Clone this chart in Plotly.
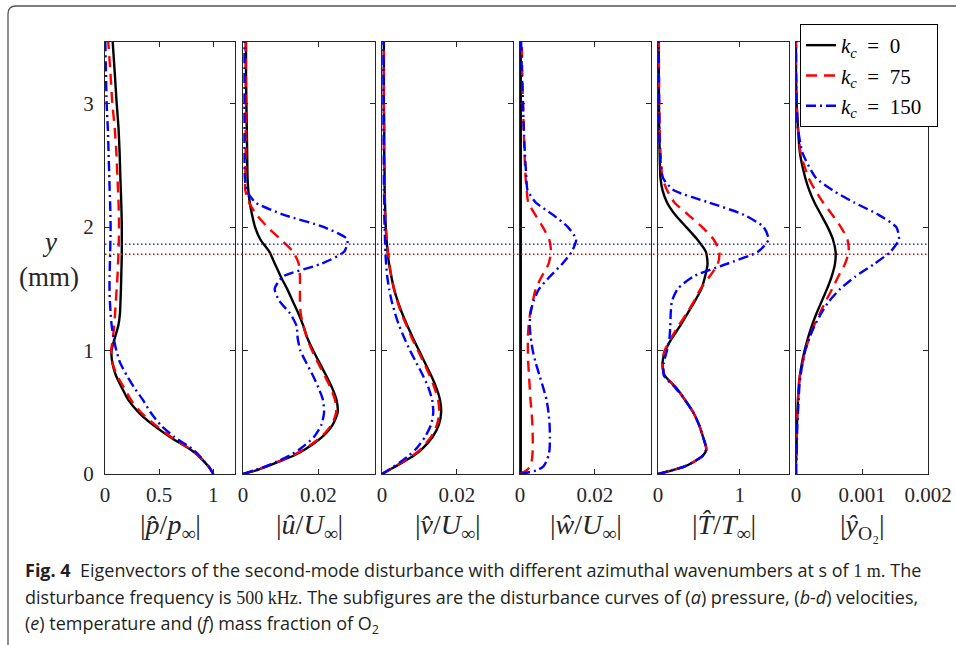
import plotly.graph_objects as go

W, H = 956, 645

# wall-normal distance (mm), shared sampling for all profiles
y_mm = [0, 0.03, 0.06, 0.1, 0.15, 0.2, 0.3, 0.4, 0.5, 0.6, 0.7, 0.8, 0.9, 1.0,
        1.1, 1.2, 1.3, 1.4, 1.5, 1.6, 1.7, 1.8, 1.9, 2.0, 2.1, 2.2, 2.3, 2.4,
        2.6, 2.8, 3.0, 3.25, 3.5]

# |p/p_inf|
p_k0 = [1.0, 0.98, 0.955, 0.915, 0.86, 0.785, 0.6, 0.44, 0.31, 0.215, 0.155, 0.1, 0.068, 0.06,
        0.09, 0.122, 0.138, 0.143, 0.147, 0.15, 0.153, 0.155, 0.155, 0.155, 0.153, 0.15, 0.146, 0.142,
        0.135, 0.125, 0.108, 0.09, 0.071]
p_k75 = [1.0, 0.98, 0.955, 0.915, 0.86, 0.79, 0.61, 0.46, 0.33, 0.24, 0.175, 0.11, 0.07, 0.058,
         0.072, 0.085, 0.093, 0.1, 0.108, 0.115, 0.12, 0.125, 0.128, 0.13, 0.128, 0.125, 0.12, 0.115,
         0.105, 0.09, 0.068, 0.05, 0.03]
p_k150 = [1.0, 0.98, 0.96, 0.92, 0.87, 0.81, 0.64, 0.51, 0.42, 0.35, 0.27, 0.2, 0.14, 0.105,
          0.08, 0.062, 0.052, 0.045, 0.042, 0.042, 0.045, 0.048, 0.05, 0.052, 0.05, 0.047, 0.043, 0.04,
          0.033, 0.026, 0.015, 0.009, 0.003]

# |u/U_inf|
u_k0 = [0, 0.0035, 0.0062, 0.0095, 0.0135, 0.0165, 0.021, 0.0238, 0.0251, 0.0248, 0.0236, 0.022, 0.0203, 0.0186,
        0.0171, 0.016, 0.0147, 0.0132, 0.0117, 0.01, 0.0085, 0.007, 0.0046, 0.0032, 0.0024, 0.0018, 0.0014, 0.0012,
        0.0011, 0.001, 0.0009, 0.0008, 0.0008]
u_k75 = [0, 0.0035, 0.006, 0.0093, 0.0132, 0.0162, 0.0207, 0.0235, 0.0247, 0.0244, 0.0232, 0.0216, 0.0199, 0.0183,
         0.017, 0.016, 0.0153, 0.0151, 0.0151, 0.0151, 0.0148, 0.0133, 0.01, 0.0065, 0.0036, 0.0016, 0.0006, 0.0006,
         0.0007, 0.0007, 0.0007, 0.0007, 0.0007]
u_k150 = [0, 0.003, 0.0058, 0.009, 0.0124, 0.015, 0.0188, 0.0208, 0.0215, 0.0212, 0.02, 0.0185, 0.0168, 0.0152,
          0.0145, 0.0142, 0.0125, 0.0097, 0.0084, 0.0106, 0.0205, 0.0268, 0.0277, 0.0215, 0.0108, 0.0033, 0.0009, 0.0005,
          0.0004, 0.0004, 0.0004, 0.0004, 0.0004]

# |v/U_inf|
v_k0 = [0, 0.0018, 0.0035, 0.0058, 0.0085, 0.0106, 0.0135, 0.0152, 0.0158, 0.0155, 0.0145, 0.0131, 0.0115, 0.0099,
        0.0083, 0.0068, 0.0054, 0.0042, 0.0032, 0.0025, 0.0019, 0.0015, 0.0012, 0.001, 0.0009, 0.0008, 0.0007, 0.0007,
        0.0006, 0.0006, 0.0005, 0.0005, 0.0005]
v_k75 = [0, 0.0018, 0.0034, 0.0056, 0.0082, 0.0103, 0.0131, 0.0147, 0.0153, 0.015, 0.014, 0.0127, 0.0112, 0.0096,
         0.008, 0.0066, 0.0052, 0.0041, 0.0032, 0.0025, 0.002, 0.0016, 0.0013, 0.001, 0.0008, 0.0007, 0.0006, 0.0006,
         0.0005, 0.0005, 0.0005, 0.0005, 0.0005]
v_k150 = [0, 0.0016, 0.0031, 0.005, 0.0072, 0.009, 0.0115, 0.0131, 0.0137, 0.0134, 0.0124, 0.0109, 0.0092, 0.0075,
          0.006, 0.0046, 0.0035, 0.0026, 0.0019, 0.0014, 0.0011, 0.0009, 0.0008, 0.0007, 0.0006, 0.0006, 0.0005, 0.0005,
          0.0005, 0.0004, 0.0004, 0.0004, 0.0004]

# |w/U_inf|
w_k0 = [0.0002, 0.0002, 0.0002, 0.0002, 0.0002, 0.0002, 0.0002, 0.0002, 0.0002, 0.0002, 0.0002, 0.0002, 0.0002, 0.0002,
        0.0002, 0.0002, 0.0002, 0.0002, 0.0002, 0.0002, 0.0002, 0.0002, 0.0002, 0.0002, 0.0002, 0.0002, 0.0002, 0.0002,
        0.0002, 0.0002, 0.0002, 0.0002, 0.0002]
w_k75 = [0, 0.0018, 0.0027, 0.0031, 0.0033, 0.0034, 0.0034, 0.0033, 0.0031, 0.0028, 0.0026, 0.0024, 0.0022, 0.0021,
         0.0021, 0.0023, 0.0027, 0.0034, 0.0042, 0.0058, 0.0076, 0.0083, 0.0078, 0.0061, 0.0041, 0.0022, 0.0018, 0.0015,
         0.0012, 0.001, 0.0008, 0.0006, 0.0005]
w_k150 = [0, 0.0045, 0.0062, 0.007, 0.0076, 0.0079, 0.008, 0.0079, 0.0076, 0.0071, 0.0062, 0.0052, 0.0042, 0.0034,
          0.0029, 0.0026, 0.0028, 0.0036, 0.0051, 0.008, 0.0112, 0.0138, 0.015, 0.0128, 0.0088, 0.0042, 0.002, 0.0017,
          0.0013, 0.001, 0.0008, 0.0005, 0.0003]

# |T/T_inf|
T_k0 = [0, 0.17, 0.32, 0.44, 0.55, 0.59, 0.55, 0.5, 0.43, 0.33, 0.22, 0.08, 0.055, 0.09,
        0.17, 0.27, 0.36, 0.45, 0.53, 0.575, 0.605, 0.585, 0.48, 0.345, 0.21, 0.11, 0.055, 0.03,
        0.02, 0.015, 0.012, 0.01, 0.01]
T_k75 = [0, 0.17, 0.32, 0.44, 0.55, 0.59, 0.55, 0.5, 0.43, 0.33, 0.22, 0.08, 0.05, 0.08,
         0.16, 0.25, 0.35, 0.44, 0.52, 0.63, 0.73, 0.75, 0.68, 0.54, 0.37, 0.2, 0.11, 0.055,
         0.03, 0.02, 0.015, 0.012, 0.01]
T_k150 = [0, 0.17, 0.32, 0.44, 0.55, 0.59, 0.55, 0.5, 0.43, 0.33, 0.21, 0.07, 0.07, 0.11,
          0.14, 0.15, 0.155, 0.17, 0.24, 0.43, 0.83, 1.22, 1.35, 1.29, 1.05, 0.62, 0.19, 0.06,
          0.025, 0.015, 0.012, 0.01, 0.008]

# |y_O2|
yO2_k0 = [0, 0, 0, 0, 0.000005, 0.00001, 0.00001, 0.000015, 0.00002, 0.00003, 0.00004, 0.00006, 0.00009, 0.00013,
          0.00018, 0.00024, 0.00031, 0.00039, 0.00047, 0.00054, 0.00059, 0.0006, 0.00056, 0.00048, 0.00038, 0.00028, 0.0002, 0.00014,
          0.00006, 0.00003, 0.00001, 0, 0]
yO2_k75 = [0, 0, 0, 0, 0.000005, 0.00001, 0.00001, 0.000015, 0.00002, 0.00003, 0.00004, 0.00006, 0.0001, 0.00014,
           0.0002, 0.00027, 0.00036, 0.00045, 0.00055, 0.00064, 0.00074, 0.0008, 0.00078, 0.00068, 0.00055, 0.00041, 0.00029, 0.00019,
           0.00007, 0.00003, 0.00001, 0, 0]
yO2_k150 = [0, 0, 0, 0.000005, 0.00001, 0.00001, 0.000015, 0.00002, 0.00003, 0.00004, 0.00005, 0.00007, 0.0001, 0.00014,
            0.0002, 0.00028, 0.00038, 0.0005, 0.00067, 0.0009, 0.00118, 0.00143, 0.00156, 0.00152, 0.00125, 0.00088, 0.00055, 0.0003,
            0.0001, 0.00003, 0.00001, 0, 0]

# critical-layer heights (mm)
crit_k150 = 1.862
crit_k75 = 1.78

SP = "\u2002"
series_names = [f"<i>k<sub>c</sub></i>{SP}={SP}0", f"<i>k<sub>c</sub></i>{SP}={SP}75",
                f"<i>k<sub>c</sub></i>{SP}={SP}150{SP}"]
series_colors = ["#000000", "#ff0000", "#0000ff"]
series_dash = ["solid", "11px,7px", "10px,4px,2px,4px"]

panel_data = [
    (p_k0, p_k75, p_k150),
    (u_k0, u_k75, u_k150),
    (v_k0, v_k75, v_k150),
    (w_k0, w_k75, w_k150),
    (T_k0, T_k75, T_k150),
    (yO2_k0, yO2_k75, yO2_k150),
]
panel_ranges = [[0, 1.2], [0, 0.035], [0, 0.035], [0, 0.035], [0, 1.6], [0, 0.002]]
panel_ticks = [[0, 0.5, 1], [0, 0.02], [0, 0.02], [0, 0.02], [0, 1], [0, 0.001, 0.002]]
panel_ticktext = [["0", "0.5", "1"], ["0", "0.02"], ["0", "0.02"], ["0", "0.02"], ["0", "1"],
                  ["0", "0.001", "0.002"]]
panel_titles = [
    "|<i>p̂</i>/<i>p</i><sub>∞</sub>|",
    "|<i>û</i>/<i>U</i><sub>∞</sub>|",
    "|<i>v̂</i>/<i>U</i><sub>∞</sub>|",
    "|<i>ŵ</i>/<i>U</i><sub>∞</sub>|",
    "|<i>T̂</i>/<i>T</i><sub>∞</sub>|",
    "|<i>ŷ</i><sub>O₂</sub>|",
]
y_ticks = [0, 1, 2, 3]

# panel placement in pixels
panel_px = [(105, 235), (243, 375), (382, 513), (520, 651), (658, 789), (796, 928)]
plot_top, plot_bottom = 42, 474

SERIF = "Liberation Serif, Times New Roman, serif"
AX = "#262626"


def px_x(px):
    return px / W


def px_y(py):
    return 1 - py / H


fig = go.Figure()
layout = dict(
    width=W, height=H, margin=dict(l=0, r=0, t=0, b=0, autoexpand=False),
    paper_bgcolor="white", plot_bgcolor="white",
    showlegend=True,
)

for i, (data, (x0, x1)) in enumerate(zip(panel_data, panel_px)):
    n = i + 1
    xa = "x" if n == 1 else f"x{n}"
    ya = "y" if n == 1 else f"y{n}"
    for j, vals in enumerate(data):
        fig.add_trace(go.Scatter(
            x=vals, y=y_mm, xaxis=xa, yaxis=ya, mode="lines",
            line=dict(color=series_colors[j], width=2.4, dash=series_dash[j], shape="spline", smoothing=0.6),
            name=series_names[j], legendgroup=f"k{j}", showlegend=(n == 1),
            hoverinfo="skip",
        ))
    xkey = "xaxis" if n == 1 else f"xaxis{n}"
    ykey = "yaxis" if n == 1 else f"yaxis{n}"
    layout[xkey] = dict(
        domain=[px_x(x0), px_x(x1)], range=panel_ranges[i], anchor=ya,
        tickmode="array", tickvals=panel_ticks[i], ticktext=panel_ticktext[i],
        ticks="inside", ticklen=5, tickwidth=1, tickcolor=AX, mirror="ticks",
        showline=True, linecolor=AX, linewidth=1, showgrid=False, zeroline=False,
        tickfont=dict(family=SERIF, size=21, color=AX), ticklabelstandoff=2,
    )
    layout[ykey] = dict(
        domain=[px_y(plot_bottom), px_y(plot_top)], range=[0, 3.5], anchor=xa,
        tickmode="array", tickvals=y_ticks, ticktext=[str(t) for t in y_ticks],
        showticklabels=(n == 1),
        ticks="inside", ticklen=5, tickwidth=1, tickcolor=AX, mirror="ticks",
        showline=True, linecolor=AX, linewidth=1, showgrid=False, zeroline=False,
        tickfont=dict(family=SERIF, size=21, color=AX), ticklabelstandoff=6,
    )

layout["legend"] = dict(
    x=px_x(800), y=px_y(24), xanchor="left", yanchor="top",
    bgcolor="white", bordercolor="#000000", borderwidth=1,
    font=dict(family=SERIF, size=21, color="#000000"),
    tracegroupgap=0,
)

annotations = []
for i, (x0, x1) in enumerate(panel_px):
    annotations.append(dict(
        x=px_x((x0 + x1) / 2), y=px_y(526), xref="paper", yref="paper",
        text=panel_titles[i], showarrow=False, xanchor="center", yanchor="middle",
        font=dict(family=SERIF, size=28, color=AX),
    ))
annotations.append(dict(x=px_x(49), y=px_y(242), xref="paper", yref="paper", text="<i>y</i>",
                        showarrow=False, xanchor="center", yanchor="middle",
                        font=dict(family=SERIF, size=27, color=AX)))
annotations.append(dict(x=px_x(49), y=px_y(277), xref="paper", yref="paper", text="(mm)",
                        showarrow=False, xanchor="center", yanchor="middle",
                        font=dict(family=SERIF, size=27, color=AX)))

CAP = "Open Sans, Noto Sans, sans-serif"
SER_SPAN = "<span style='font-family:Liberation Serif'>"
caption_lines = [
    "<b>Fig. 4</b>  Eigenvectors of the second-mode disturbance with different azimuthal wavenumbers at s of "
    + SER_SPAN + "1 m</span>. The",
    "disturbance frequency is " + SER_SPAN + "500 kHz</span>. The subfigures are the disturbance curves of "
    "(<i>a</i>) pressure, (<i>b</i>-<i>d</i>) velocities,",
    "(<i>e</i>) temperature and (<i>f</i>) mass fraction of O<sub>2</sub>",
]
for k, line in enumerate(caption_lines):
    annotations.append(dict(
        x=px_x(23), y=px_y(570 + 27 * k), xref="paper", yref="paper", text=line,
        showarrow=False, xanchor="left", yanchor="middle", align="left",
        font=dict(family=CAP, size=18, color="#231f20"),
    ))
layout["annotations"] = annotations

# critical-layer markers and outer rounded frame
r_x, r_y = 8 / W, 8 / H
fx, fy = px_x(8), px_y(6)
layout["shapes"] = [
    dict(type="line", xref="paper", yref="y", x0=px_x(105), x1=px_x(928), y0=crit_k150, y1=crit_k150,
         line=dict(color="#0000ff", width=1.2, dash="1.5px,2.5px")),
    dict(type="line", xref="paper", yref="y", x0=px_x(105), x1=px_x(928), y0=crit_k75, y1=crit_k75,
         line=dict(color="#c81010", width=1.6, dash="1.5px,2.5px")),
    dict(type="path", xref="paper", yref="paper",
         path=f"M 1,{fy} L {fx + r_x},{fy} Q {fx},{fy} {fx},{fy - r_y} L {fx},0",
         line=dict(color="#555555", width=1.3)),
]

fig.update_layout(**layout)
fig.write_html("out.html")
